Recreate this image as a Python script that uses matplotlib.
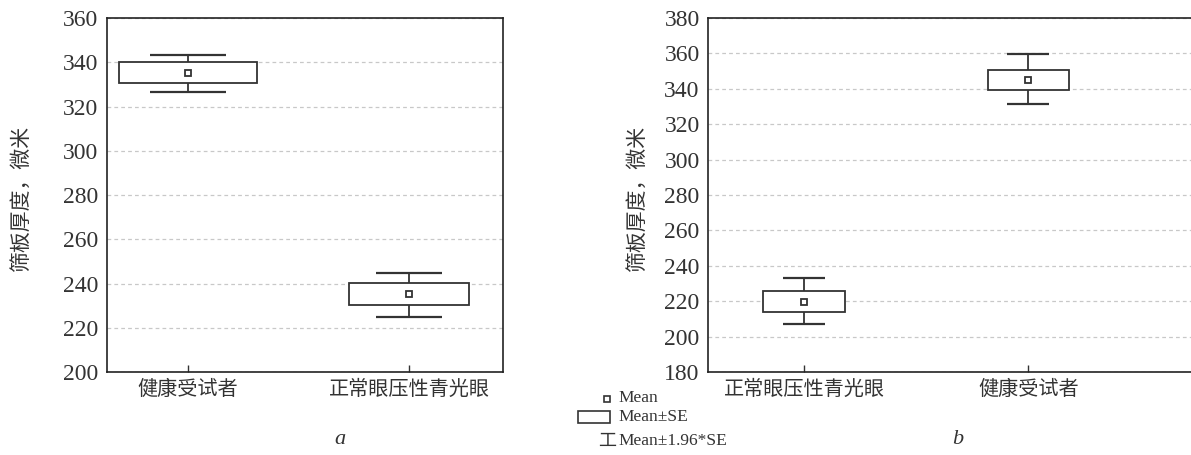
import matplotlib.pyplot as plt
import numpy as np

plt.rcParams['font.family'] = ['Liberation Serif', 'Noto Sans CJK SC', 'DejaVu Sans']

# panel a
cats_a = ['健康受试者', '正常眼压性青光眼']
mean_a = [335.1, 235.1]
se_lo_a = [330.6, 230.4]
se_hi_a = [340.1, 240.1]
ci_lo_a = [326.7, 225.0]
ci_hi_a = [343.3, 244.9]

# panel b
cats_b = ['正常眼压性青光眼', '健康受试者']
mean_b = [219.8, 344.8]
se_lo_b = [214.1, 339.1]
se_hi_b = [225.8, 350.8]
ci_lo_b = [207.1, 331.5]
ci_hi_b = [233.0, 359.8]

ticks_a = np.arange(200, 361, 20)
ticks_b = np.arange(180, 381, 20)

dark = '#333333'
cjk = ['Noto Sans CJK SC', 'DejaVu Sans']


def panel(ax, cats, mean, lo, hi, clo, chi, ticks, xlim, boxw, capw, labx):
    x = np.arange(len(cats))
    ax.bar(x, np.array(hi) - np.array(lo), bottom=lo, width=boxw,
           facecolor='white', edgecolor=dark, linewidth=1.3, zorder=3)
    ax.vlines(x, hi, chi, color=dark, linewidth=1.3, zorder=3)
    ax.vlines(x, clo, lo, color=dark, linewidth=1.3, zorder=3)
    for xi, w, a, b in zip(x, capw, clo, chi):
        ax.hlines([a, b], xi - w / 2, xi + w / 2, color=dark, linewidth=1.6, zorder=3)
    ax.plot(x, mean, 's', ms=4.5, mfc='white', mec=dark, mew=1.3, zorder=4, ls='none')
    ax.set_xlim(*xlim)
    ax.set_ylim(ticks[0], ticks[-1])
    ax.set_yticks(ticks)
    ax.set_xticks(x)
    ax.set_xticklabels(cats, family=cjk, fontsize=14.5, color=dark)
    ax.tick_params(axis='y', length=0, pad=6, labelsize=17, labelcolor=dark)
    ax.tick_params(axis='x', direction='in', length=5, width=1, color=dark, pad=5)
    ax.yaxis.grid(True, color='#c8c8c8', linestyle=(0, (3, 2.5)), linewidth=0.9)
    ax.set_axisbelow(True)
    for s in ax.spines.values():
        s.set_color('#222222')
        s.set_linewidth(1.2)
    ax.set_ylabel('筛板厚度，微米', family=cjk, fontsize=15, color=dark)
    ax.yaxis.set_label_coords(labx, 0.49)


fig = plt.figure(figsize=(11.91, 4.55), dpi=100)
ax1 = fig.add_axes([0.0898, 0.1824, 0.3325, 0.778])
ax2 = fig.add_axes([0.5945, 0.1824, 0.4075, 0.778])

panel(ax1, cats_a, mean_a, se_lo_a, se_hi_a, ci_lo_a, ci_hi_a, ticks_a,
      (-0.3665, 1.425), [0.624, 0.543], [0.34, 0.30], -0.189)
panel(ax2, cats_b, mean_b, se_lo_b, se_hi_b, ci_lo_b, ci_hi_b, ticks_b,
      (-0.4286, 1.737), [0.366, 0.362], [0.1875, 0.1875], -0.124)

fig.text(340 / 1191, 1 - 440 / 455, 'a', style='italic', fontsize=16, color=dark,
         ha='center', va='center')
fig.text(958 / 1191, 1 - 440 / 455, 'b', style='italic', fontsize=16, color=dark,
         ha='center', va='center')

# legend
fig.lines.append(plt.Line2D([607 / 1191], [1 - 399 / 455], marker='s', ms=4.5, mfc='white',
                            mec=dark, mew=1.2, transform=fig.transFigure))
fig.patches.append(plt.Rectangle((578 / 1191, 1 - 423 / 455), 32 / 1191, 12 / 455,
                                 facecolor='white', edgecolor=dark, lw=1.2,
                                 transform=fig.transFigure))
fig.text(616 / 1191, 1 - 441 / 455, '工', family=cjk, fontsize=13, color=dark,
         ha='right', va='center')
for yy, t in [(398, 'Mean'), (417, 'Mean±SE'), (441, 'Mean±1.96*SE')]:
    fig.text(618 / 1191, 1 - yy / 455, t, fontsize=12.5, color=dark, ha='left', va='center')

fig.savefig('out.png', dpi=100)
